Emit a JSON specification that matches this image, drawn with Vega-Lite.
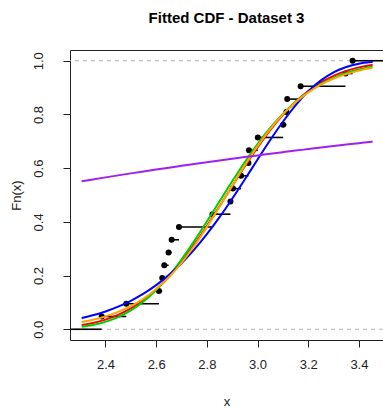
{
  "$schema": "https://vega.github.io/schema/vega-lite/v6.json",
  "width": 313,
  "height": 290,
  "autosize": {"type": "none"},
  "padding": {"left": 70, "top": 50, "right": 0, "bottom": 70},
  "background": "white",
  "title": {
    "text": "Fitted CDF - Dataset 3",
    "font": "Liberation Sans",
    "fontSize": 15,
    "fontWeight": "bold",
    "color": "black",
    "anchor": "middle",
    "offset": 24
  },
  "config": {
    "view": {"stroke": "#222", "strokeWidth": 1},
    "axis": {
      "domain": false,
      "grid": false,
      "ticks": true,
      "tickColor": "#222",
      "tickSize": 7,
      "tickWidth": 1,
      "labelFont": "Liberation Sans",
      "labelFontSize": 13,
      "labelColor": "#222",
      "titleFont": "Liberation Sans",
      "titleFontSize": 13,
      "titleFontWeight": "normal",
      "titleColor": "#222"
    }
  },
  "datasets": {
    "ecdf": [
      {"x": 2.26, "Fn": 0, "xend": 2.385, "jump": false},
      {"x": 2.385, "Fn": 0.0476, "xend": 2.482, "jump": true},
      {"x": 2.482, "Fn": 0.0952, "xend": 2.611, "jump": true},
      {"x": 2.611, "Fn": 0.1429, "xend": 2.624, "jump": true},
      {"x": 2.624, "Fn": 0.1905, "xend": 2.632, "jump": true},
      {"x": 2.632, "Fn": 0.2381, "xend": 2.649, "jump": true},
      {"x": 2.649, "Fn": 0.2857, "xend": 2.661, "jump": true},
      {"x": 2.661, "Fn": 0.3333, "xend": 2.690, "jump": true},
      {"x": 2.690, "Fn": 0.3810, "xend": 2.822, "jump": true},
      {"x": 2.822, "Fn": 0.4286, "xend": 2.893, "jump": true},
      {"x": 2.893, "Fn": 0.4762, "xend": 2.903, "jump": true},
      {"x": 2.903, "Fn": 0.5238, "xend": 2.935, "jump": true},
      {"x": 2.935, "Fn": 0.5714, "xend": 2.964, "jump": true},
      {"x": 2.964, "Fn": 0.6190, "xend": 2.966, "jump": true},
      {"x": 2.966, "Fn": 0.6667, "xend": 3.001, "jump": true},
      {"x": 3.001, "Fn": 0.7143, "xend": 3.101, "jump": true},
      {"x": 3.101, "Fn": 0.7619, "xend": 3.114, "jump": true},
      {"x": 3.114, "Fn": 0.8095, "xend": 3.117, "jump": true},
      {"x": 3.117, "Fn": 0.8571, "xend": 3.170, "jump": true},
      {"x": 3.170, "Fn": 0.9048, "xend": 3.347, "jump": true},
      {"x": 3.347, "Fn": 0.9524, "xend": 3.375, "jump": true},
      {"x": 3.375, "Fn": 1.0, "xend": 3.495, "jump": true}
    ],
    "fits": [
      {"x": 2.306, "normal": 0.0157, "lognormal": 0.0094, "logistic": 0.0272, "weibull": 0.0416, "exponential": 0.5512},
      {"x": 2.35, "normal": 0.0235, "lognormal": 0.0160, "logistic": 0.0356, "weibull": 0.0520, "exponential": 0.5580},
      {"x": 2.40, "normal": 0.0360, "lognormal": 0.0276, "logistic": 0.0480, "weibull": 0.0664, "exponential": 0.5656},
      {"x": 2.45, "normal": 0.0536, "lognormal": 0.0451, "logistic": 0.0645, "weibull": 0.0843, "exponential": 0.5731},
      {"x": 2.50, "normal": 0.0774, "lognormal": 0.0700, "logistic": 0.0861, "weibull": 0.1061, "exponential": 0.5805},
      {"x": 2.55, "normal": 0.1086, "lognormal": 0.1035, "logistic": 0.1141, "weibull": 0.1326, "exponential": 0.5877},
      {"x": 2.60, "normal": 0.1478, "lognormal": 0.1464, "logistic": 0.1496, "weibull": 0.1644, "exponential": 0.5948},
      {"x": 2.65, "normal": 0.1954, "lognormal": 0.1988, "logistic": 0.1939, "weibull": 0.2021, "exponential": 0.6018},
      {"x": 2.70, "normal": 0.2514, "lognormal": 0.2599, "logistic": 0.2474, "weibull": 0.2461, "exponential": 0.6086},
      {"x": 2.75, "normal": 0.3149, "lognormal": 0.3282, "logistic": 0.3100, "weibull": 0.2967, "exponential": 0.6154},
      {"x": 2.80, "normal": 0.3844, "lognormal": 0.4011, "logistic": 0.3805, "weibull": 0.3540, "exponential": 0.6220},
      {"x": 2.85, "normal": 0.4582, "lognormal": 0.4764, "logistic": 0.4564, "weibull": 0.4175, "exponential": 0.6285},
      {"x": 2.90, "normal": 0.5331, "lognormal": 0.5512, "logistic": 0.5343, "weibull": 0.4862, "exponential": 0.6349},
      {"x": 2.95, "normal": 0.6068, "lognormal": 0.6231, "logistic": 0.6106, "weibull": 0.5584, "exponential": 0.6412},
      {"x": 3.00, "normal": 0.6769, "lognormal": 0.6898, "logistic": 0.6819, "weibull": 0.6321, "exponential": 0.6474},
      {"x": 3.05, "normal": 0.7412, "lognormal": 0.7498, "logistic": 0.7456, "weibull": 0.7046, "exponential": 0.6534},
      {"x": 3.10, "normal": 0.7984, "lognormal": 0.8023, "logistic": 0.8002, "weibull": 0.7728, "exponential": 0.6594},
      {"x": 3.15, "normal": 0.8471, "lognormal": 0.8468, "logistic": 0.8455, "weibull": 0.8340, "exponential": 0.6653},
      {"x": 3.20, "normal": 0.8872, "lognormal": 0.8836, "logistic": 0.8821, "weibull": 0.8858, "exponential": 0.6710},
      {"x": 3.25, "normal": 0.9192, "lognormal": 0.9132, "logistic": 0.9109, "weibull": 0.9267, "exponential": 0.6767},
      {"x": 3.30, "normal": 0.9439, "lognormal": 0.9364, "logistic": 0.9333, "weibull": 0.9567, "exponential": 0.6823},
      {"x": 3.35, "normal": 0.9621, "lognormal": 0.9543, "logistic": 0.9503, "weibull": 0.9767, "exponential": 0.6877},
      {"x": 3.40, "normal": 0.9753, "lognormal": 0.9677, "logistic": 0.9631, "weibull": 0.9888, "exponential": 0.6931},
      {"x": 3.45, "normal": 0.9843, "lognormal": 0.9776, "logistic": 0.9728, "weibull": 0.9952, "exponential": 0.6984},
      {"x": 3.454, "normal": 0.9849, "lognormal": 0.9782, "logistic": 0.9734, "weibull": 0.9956, "exponential": 0.6988}
    ],
    "ref": [{"y": 0}, {"y": 1}]
  },
  "layer": [
    {
      "data": {"name": "ref"},
      "mark": {"type": "rule", "color": "#b3b3b3", "strokeDash": [4, 4], "strokeWidth": 1},
      "encoding": {
        "y": {
          "field": "y", "type": "quantitative",
          "scale": {"domain": [-0.04, 1.04], "nice": false, "zero": false},
          "axis": {
            "values": [0, 0.2, 0.4, 0.6, 0.8, 1.0],
            "format": ".1f",
            "labelAngle": -90,
            "labelAlign": "center",
            "labelBaseline": "bottom",
            "labelPadding": 18,
            "title": "Fn(x)",
            "titlePadding": 9
          }
        }
      }
    },
    {
      "data": {"name": "ecdf"},
      "mark": {"type": "rule", "color": "black", "strokeWidth": 1.6, "clip": true},
      "encoding": {
        "x": {
          "field": "x", "type": "quantitative",
          "scale": {"domain": [2.26, 3.495], "nice": false, "zero": false},
          "axis": {
            "values": [2.4, 2.6, 2.8, 3.0, 3.2, 3.4],
            "format": ".1f",
            "labelPadding": 11,
            "title": "x",
            "titlePadding": 24
          }
        },
        "x2": {"field": "xend"},
        "y": {"field": "Fn", "type": "quantitative"}
      }
    },
    {
      "data": {"name": "ecdf"},
      "transform": [{"filter": "datum.jump"}],
      "mark": {"type": "circle", "color": "black", "opacity": 1, "size": 36},
      "encoding": {
        "x": {"field": "x", "type": "quantitative"},
        "y": {"field": "Fn", "type": "quantitative"}
      }
    },
    {
      "data": {"name": "fits"},
      "transform": [{"fold": ["normal", "lognormal", "weibull", "logistic", "exponential"], "as": ["dist", "F"]}],
      "mark": {"type": "line", "strokeWidth": 2, "interpolate": "monotone", "clip": true},
      "encoding": {
        "x": {"field": "x", "type": "quantitative"},
        "y": {"field": "F", "type": "quantitative"},
        "color": {
          "field": "dist", "type": "nominal",
          "scale": {
            "domain": ["normal", "lognormal", "weibull", "logistic", "exponential"],
            "range": ["#FF0000", "#00CD00", "#0000FF", "#FFA500", "#A020F0"]
          },
          "legend": null
        }
      }
    }
  ]
}
